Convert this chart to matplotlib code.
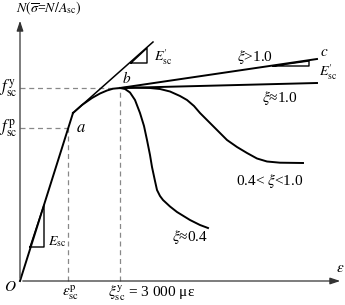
import numpy as np
import matplotlib
matplotlib.use('Agg')
import matplotlib.pyplot as plt

plt.rcParams.update({'font.size': 10, 'font.family': 'serif',
                     'font.serif': ['Liberation Serif', 'DejaVu Serif'],
                     'mathtext.fontset': 'stix'})

# schematic units: strain (x) and stress (y), origin at O
eps_p, f_p = 48, 153       # point a
eps_y, f_y = 100, 193      # point b
x_end, y_end = 323, 263    # axis ends

# elastic branch up to the kink
elastic_x = [0, 53]
elastic_y = [0, 168]
# tangent with slope E'sc
tangent_x = [53, 133]
tangent_y = [168, 239]
# hardening from kink to b
harden_x = [53, 62, 72, 80, 87, 93, 100]
harden_y = [168, 176, 183, 187.5, 190.5, 192.3, 193]
# xi > 1.0
xi_gt1_x = [100, 297]
xi_gt1_y = [193, 222]
# xi ~ 1.0
xi_eq1_x = [100, 297]
xi_eq1_y = [193, 198]
# 0.4 < xi < 1.0
xi_mid_x = [100, 115, 130, 140, 150, 160, 167, 174, 180, 193, 207, 217, 227, 237, 247, 260, 283]
xi_mid_y = [193, 193.3, 193, 192, 189.5, 185, 181, 175, 168, 155, 141, 134, 128, 122.5, 119.5, 118.3, 118]
# xi ~ 0.4
xi_04_x = [100, 105, 110, 115, 120, 124, 127, 130, 132, 135, 137, 140, 143, 150, 157, 170, 180, 188]
xi_04_y = [193, 192, 188.5, 181, 168, 155, 141, 126, 114, 100, 91, 85, 81, 74.5, 69, 61, 56, 53]

# slope triangles
tri_esc_x = [10, 24, 24]
tri_esc_y = [34, 34, 76]
tri_tan_x = [111, 127, 127]
tri_tan_y = [218, 218, 233]
tri_gt1_x = [253, 289, 289]
tri_gt1_y = [215, 215, 220]

fig = plt.figure(figsize=(3.45, 3.05), dpi=100)
ax = fig.add_axes([0, 0, 1, 1])
ax.set_xlim(-20, 325)
ax.set_ylim(-24, 281)
ax.axis('off')

ax_col = '#333333'
ax.annotate('', xy=(x_end, 0), xytext=(0, 0),
            arrowprops=dict(arrowstyle='-|>,head_length=0.6,head_width=0.2', color=ax_col, lw=0.9))
ax.annotate('', xy=(0, y_end), xytext=(0, 0),
            arrowprops=dict(arrowstyle='-|>,head_length=0.6,head_width=0.2', color=ax_col, lw=0.9))

# dashed guides
dash = dict(color='#888888', lw=0.9, ls=(0, (4, 3)))
ax.plot([0, eps_p], [f_p, f_p], **dash)
ax.plot([eps_p, eps_p], [0, f_p], **dash)
ax.plot([0, eps_y], [f_y, f_y], **dash)
ax.plot([eps_y, eps_y], [0, f_y], **dash)

lw = 1.4
ax.plot(elastic_x, elastic_y, color='black', lw=lw)
ax.plot(tangent_x, tangent_y, color='black', lw=1.1)
ax.plot(harden_x, harden_y, color='black', lw=lw)
ax.plot(xi_gt1_x, xi_gt1_y, color='black', lw=lw)
ax.plot(xi_eq1_x, xi_eq1_y, color='black', lw=lw)
ax.plot(xi_mid_x, xi_mid_y, color='black', lw=lw)
ax.plot(xi_04_x, xi_04_y, color='black', lw=lw)

for tx, ty in [(tri_esc_x, tri_esc_y), (tri_tan_x, tri_tan_y), (tri_gt1_x, tri_gt1_y)]:
    ax.plot(tx + [tx[0]], ty + [ty[0]], color='black', lw=1.0)

# labels
ax.text(29, 273, r'$N(\overline{\sigma}$=$N/A_{\rm sc})$', ha='center', va='center', fontsize=10)
ax.text(-3, f_y, r'$f_{\rm sc}^{\rm y}$', ha='right', va='center', fontsize=12)
ax.text(-3, f_p, r'$f_{\rm sc}^{\rm p}$', ha='right', va='center', fontsize=12)
ax.text(-10, -6, r'$O$', ha='center', va='center', fontsize=11)
ax.text(56, 153, r'$a$', ha='left', va='center', fontsize=12)
ax.text(107, 203, r'$b$', ha='center', va='center', fontsize=11)
ax.text(304, 228, r'$c$', ha='center', va='center', fontsize=11)
ax.text(37, 39, r'$E_{\rm sc}$', ha='center', va='center', fontsize=10)
ax.text(143, 224, r"$E_{\rm sc}'$", ha='center', va='center', fontsize=10)
ax.text(308, 209, r"$E_{\rm sc}'$", ha='center', va='center', fontsize=10)
ax.text(235, 224, r'$\xi$>1.0', ha='center', va='center', fontsize=11)
ax.text(260, 183, r'$\xi$≈1.0', ha='center', va='center', fontsize=11)
ax.text(250, 100, r'0.4< $\xi$<1.0', ha='center', va='center', fontsize=11)
ax.text(170, 44, r'$\xi$≈0.4', ha='center', va='center', fontsize=11)
ax.text(320, 12, r'$\varepsilon$', ha='center', va='center', fontsize=11)
ax.text(51, -12, r'$\varepsilon_{\rm sc}^{\rm p}$', ha='center', va='center', fontsize=11)
ax.text(132, -12, r'$\xi_{\rm sc}^{\rm y}$ = 3 000 με', ha='center', va='center', fontsize=11)

fig.savefig('out.png', dpi=100)
